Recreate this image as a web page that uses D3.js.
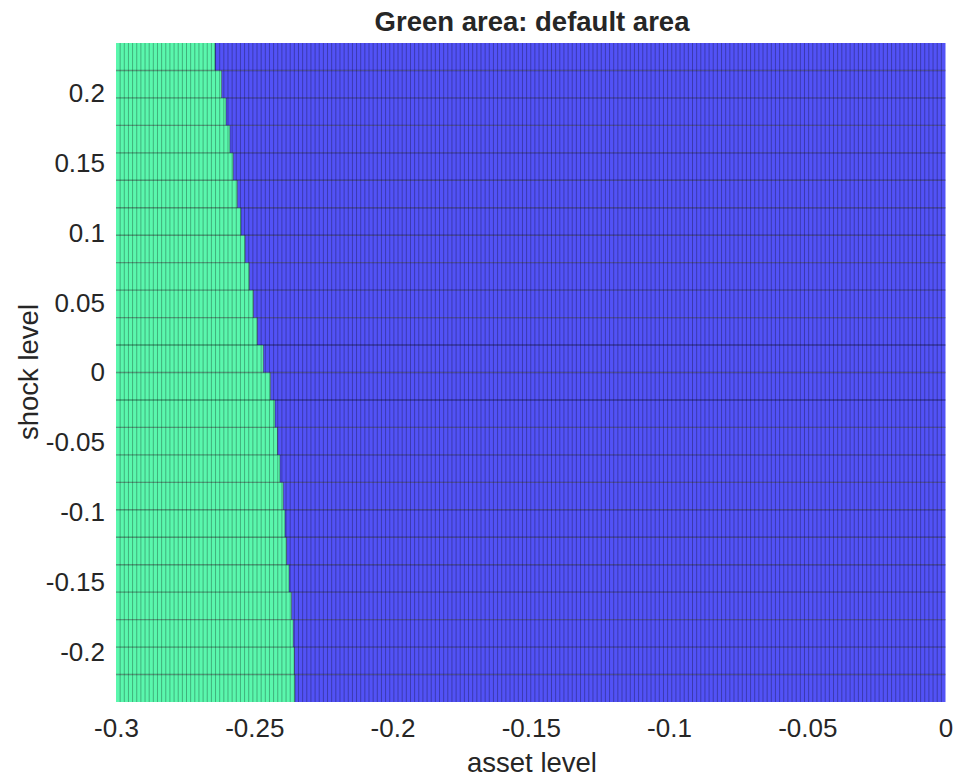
<!DOCTYPE html>
<html>
<head>
<meta charset="utf-8">
<script src="https://cdn.jsdelivr.net/npm/d3@7"></script>
<style>
  body { margin: 0; background: #fff; }
  text { font-family: "Liberation Sans", Arial, sans-serif; fill: #262626; }
</style>
</head>
<body>
<svg width="957" height="780"></svg>
<script>
// ticks
const assetTicks = [-0.3, -0.25, -0.2, -0.15, -0.1, -0.05, 0];
const shockTicks = [-0.2, -0.15, -0.1, -0.05, 0, 0.05, 0.1, 0.15, 0.2];

// grid rows (shock level edges, top to bottom)
const shockEdges = [0.236, 0.2163, 0.1967, 0.177, 0.1573, 0.1377, 0.118, 0.0983, 0.0787, 0.059, 0.0393, 0.0197, 0,
                    -0.0197, -0.0393, -0.059, -0.0787, -0.0983, -0.118, -0.1377, -0.1573, -0.177, -0.1967, -0.2163, -0.236];

// default boundary (asset level) for each row, top to bottom
const defaultEdge = [-0.2642, -0.2618, -0.2602, -0.2588, -0.2576, -0.2561, -0.2548, -0.2533, -0.2518, -0.2503, -0.2489, -0.2467,
                     -0.2441, -0.2425, -0.2416, -0.2407, -0.2395, -0.2389, -0.2383, -0.2374, -0.2365, -0.2359, -0.2355, -0.2353];

const assetMin = -0.3, assetMax = 0, assetStep = 0.0015;

const plotLeft = 116, plotRight = 945.5, plotTop = 43, plotBottom = 702;

const svg = d3.select("svg");

const x = d3.scaleLinear().domain([assetMin, assetMax]).range([plotLeft, plotRight]);
const y = d3.scaleLinear().domain([-0.236, 0.236]).range([plotBottom, plotTop]);

const rows = defaultEdge.map((b, i) => ({top: shockEdges[i], bot: shockEdges[i + 1], edge: b}));

const g = svg.append("g");

// green cells (default)
g.selectAll("rect.green").data(rows).enter().append("rect")
  .attr("class", "green")
  .attr("x", x(assetMin))
  .attr("y", d => y(d.top))
  .attr("width", d => x(d.edge) - x(assetMin))
  .attr("height", d => y(d.bot) - y(d.top))
  .attr("fill", "#5af7ad");

// blue cells
g.selectAll("rect.blue").data(rows).enter().append("rect")
  .attr("class", "blue")
  .attr("x", d => x(d.edge))
  .attr("y", d => y(d.top))
  .attr("width", d => x(assetMax) - x(d.edge))
  .attr("height", d => y(d.bot) - y(d.top))
  .attr("fill", "#5252f6");

// vertical mesh lines
const cols = d3.range(assetMin + assetStep, assetMax - assetStep / 2, assetStep);
g.selectAll("line.v").data(cols).enter().append("line")
  .attr("x1", d => x(d)).attr("x2", d => x(d))
  .attr("y1", plotTop).attr("y2", plotBottom)
  .attr("stroke", "#000").attr("stroke-opacity", 0.36).attr("stroke-width", 0.8);

// boundary edges
g.selectAll("line.b").data(rows).enter().append("line")
  .attr("x1", d => x(d.edge)).attr("x2", d => x(d.edge))
  .attr("y1", d => y(d.top)).attr("y2", d => y(d.bot))
  .attr("stroke", "#000").attr("stroke-opacity", 0.4).attr("stroke-width", 1);

// horizontal mesh lines
g.selectAll("line.h").data(shockEdges.slice(1, -1)).enter().append("line")
  .attr("x1", plotLeft).attr("x2", plotRight)
  .attr("y1", d => y(d)).attr("y2", d => y(d))
  .attr("stroke", "#000").attr("stroke-opacity", 0.36).attr("stroke-width", 1.3);

// X ticks
const xAxis = d3.axisBottom(x).tickValues(assetTicks).tickSize(0).tickFormat(d => String(+d.toFixed(2)));
svg.append("g")
  .attr("transform", `translate(0, ${plotBottom})`)
  .call(xAxis)
  .call(a => a.select(".domain").remove())
  .selectAll("text")
    .attr("y", 17)
    .attr("font-size", "26px")
    .attr("font-family", "Liberation Sans, Arial, sans-serif")
    .attr("fill", "#262626");

// Y ticks
const yAxis = d3.axisLeft(y).tickValues(shockTicks).tickSize(0).tickFormat(d => String(+d.toFixed(2)));
svg.append("g")
  .attr("transform", `translate(${plotLeft}, 0)`)
  .call(yAxis)
  .call(a => a.select(".domain").remove())
  .selectAll("text")
    .attr("x", -11)
    .attr("font-size", "26px")
    .attr("font-family", "Liberation Sans, Arial, sans-serif")
    .attr("fill", "#262626");

// X label
svg.append("text")
  .attr("x", 532)
  .attr("y", 772)
  .attr("font-size", "27.5px")
  .attr("text-anchor", "middle")
  .text("asset level");

// Y label
svg.append("text")
  .attr("x", -372)
  .attr("y", 38)
  .attr("font-size", "27.5px")
  .attr("text-anchor", "middle")
  .attr("transform", "rotate(-90)")
  .text("shock level");

// title
svg.append("text")
  .attr("x", 532)
  .attr("y", 31)
  .attr("font-size", "27.5px")
  .attr("font-weight", "bold")
  .attr("text-anchor", "middle")
  .attr("fill", "#000")
  .text("Green area: default area");
</script>
</body>
</html>
